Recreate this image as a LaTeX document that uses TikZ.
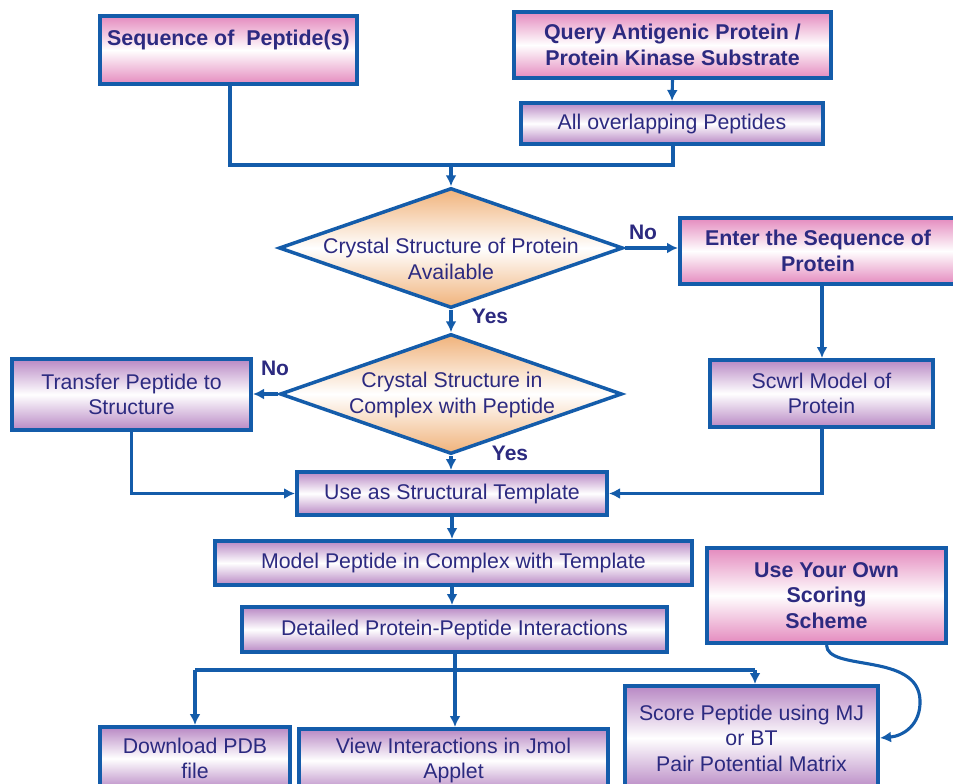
\documentclass[tikz,border=0pt]{standalone}
\usepackage{fontspec}
\setmainfont{Liberation Sans}
\usetikzlibrary{arrows.meta,shapes.geometric}
\definecolor{edgeblue}{RGB}{20,92,170}
\definecolor{txtnavy}{RGB}{44,42,128}
\definecolor{pinkfill}{RGB}{228,138,190}
\definecolor{violetfill}{RGB}{184,136,196}
\definecolor{orangefill}{RGB}{240,178,122}
\tikzset{
  box/.style={draw=edgeblue, line width=4pt, rectangle, inner sep=0pt, align=center,
    text=txtnavy, font=\fontsize{21.3}{25.5}\selectfont},
  pinkbox/.style={box, top color=pinkfill, bottom color=pinkfill, middle color=white,
    font=\fontsize{21.4}{25.5}\selectfont\bfseries},
  violetbox/.style={box, top color=violetfill, bottom color=violetfill, middle color=white},
  decision/.style={diamond, draw=edgeblue, line width=3.5pt, inner sep=0pt,
    top color=orangefill, bottom color=orangefill, middle color=white},
  dtext/.style={align=center, text=txtnavy, font=\fontsize{21.3}{25.5}\selectfont},
  lbl/.style={text=txtnavy, font=\fontsize{21}{24}\selectfont\bfseries},
  conn/.style={draw=edgeblue, line width=3.1pt},
  arr/.style={conn, -{Latex[length=11pt,width=11pt]}},
}
\begin{document}
\begin{tikzpicture}[x=1pt,y=-1pt]
\useasboundingbox (0,0) rectangle (953,784);
\clip (0,0) rectangle (953,784);
% boxes
\node[pinkbox, minimum width=257pt, minimum height=68pt] (seq) at (228.5,50) {Sequence of~~Peptide(s)\\\mbox{}};
\node[pinkbox, minimum width=317pt, minimum height=66pt] (query) at (672.5,45) {Query Antigenic Protein /\\Protein Kinase Substrate};
\node[violetbox, minimum width=302pt, minimum height=41pt] (allpep) at (672,123.5) {All overlapping Peptides};
\node[decision, minimum width=344pt, minimum height=120pt] (d1) at (451,248) {};
\node[dtext] (d1t) at (451,259) {Crystal Structure of Protein\\Available};
\node[pinkbox, minimum width=276pt, minimum height=66pt] (enter) at (818,251) {Enter the Sequence of\\Protein};
\node[decision, minimum width=342pt, minimum height=120pt] (d2) at (451,394) {};
\node[dtext] (d2t) at (452,395) {Crystal Structure in\\Complex with Peptide};
\node[violetbox, minimum width=239pt, minimum height=71pt] (transfer) at (131.5,394.5) {Transfer Peptide to\\Structure};
\node[violetbox, minimum width=223pt, minimum height=67pt] (scwrl) at (821.5,393.5) {Scwrl Model of\\Protein};
\node[violetbox, minimum width=310pt, minimum height=43pt] (template) at (452,493.5) {Use as Structural Template};
\node[violetbox, minimum width=477pt, minimum height=44pt] (model) at (453.5,563) {Model Peptide in Complex with Template};
\node[violetbox, minimum width=425pt, minimum height=45pt] (detailed) at (454.5,629.5) {Detailed Protein-Peptide Interactions};
\node[pinkbox, minimum width=239pt, minimum height=95pt] (own) at (826.5,595.5) {Use Your Own\\Scoring\\Scheme};
\node[violetbox, minimum width=190pt, minimum height=63pt] (download) at (195,758.5) {Download PDB\\file};
\node[violetbox, minimum width=309pt, minimum height=63pt] (view) at (453.5,760.5) {View Interactions in Jmol\\Applet};
\node[violetbox, minimum width=253pt, minimum height=104pt] (score) at (751.5,738) {Score Peptide using MJ\\or BT\\Pair Potential Matrix};
% labels
\node[lbl] (no1) at (643,232) {No};
\node[lbl] (yes1) at (490,316) {Yes};
\node[lbl] (no2) at (275,368) {No};
\node[lbl] (yes2) at (510,453) {Yes};
% junctions
\coordinate (j1) at (451,165);
\coordinate (j2) at (455,670);
\coordinate (jl) at (195,670);
\coordinate (jr) at (755,670);
% connectors
\draw[arr] (query.south) -- (allpep.north);
\draw[conn] (seq.south -| 230,0) |- (j1);
\draw[conn] (allpep.south -| 673,0) |- (j1);
\draw[arr] (j1) -- (d1.north);
\draw[arr] (d1.east) -- (d1.east -| enter.west);
\draw[arr] (d1.south) -- (d2.north);
\draw[arr] (d2.west) -- (d2.west -| transfer.east);
\draw[arr] (d2.south) -- (template.north -| d2.south);
\draw[arr] (enter.south -| 822,0) -- (scwrl.north -| 822,0);
\draw[arr] (transfer.south) |- (template.west);
\draw[arr] (scwrl.south -| 822,0) |- (template.east);
\draw[arr] (template.south) -- (model.north -| template.south);
\draw[arr] (model.south -| template.south) -- (detailed.north -| template.south);
\draw[conn] (detailed.south -| j2) -- (j2);
\draw[conn] (jl) -- (jr);
\draw[arr] (jl) -- (download.north);
\draw[arr] (j2) -- (view.north -| j2);
\draw[arr] (jr) -- (score.north -| jr);
\draw[arr] (own.south) .. controls (827,672) and (918,652) .. (920,700) .. controls (921,725) and (903,736) .. (score.east);
\end{tikzpicture}
\end{document}
